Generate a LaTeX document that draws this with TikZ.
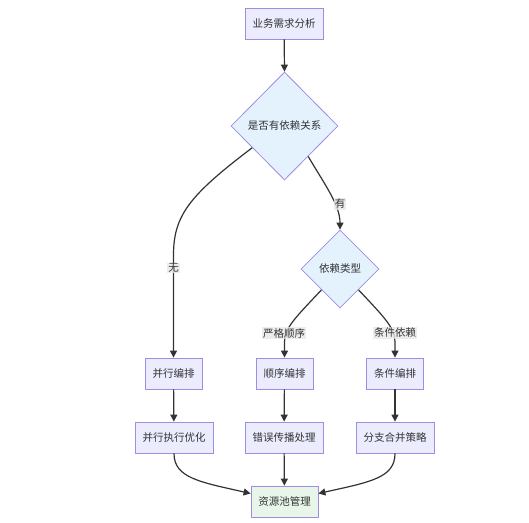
\documentclass[tikz,border=0pt]{standalone}
\usepackage{fontspec}
\setmainfont{Noto Sans CJK SC}
\usetikzlibrary{shapes.geometric,arrows.meta,calc}
\definecolor{boxfill}{HTML}{ECECFF}
\definecolor{boxline}{HTML}{A08CE0}
\definecolor{decfill}{HTML}{E3F2FD}
\definecolor{endfill}{HTML}{E8F5E9}
\definecolor{edgec}{HTML}{333333}
\definecolor{lblfill}{HTML}{E8E8E8}
\tikzset{
  stepbox/.style={draw=boxline, fill=boxfill, line width=0.8pt, rectangle, inner sep=0pt, minimum height=31pt, font=\fontsize{10.5}{12}\selectfont, text=edgec},
  decbox/.style={draw=boxline, fill=decfill, line width=0.8pt, diamond, inner sep=0pt, font=\fontsize{10.5}{12}\selectfont, text=edgec},
  conn/.style={draw=edgec, line width=1.2pt, -{Triangle[length=7pt,width=7pt]}},
  lbl/.style={fill=lblfill, fill opacity=0.8, text opacity=1, inner sep=1pt, font=\fontsize{10.5}{12}\selectfont, text=edgec}
}
\begin{document}
\begin{tikzpicture}[x=1pt,y=-1pt]
\useasboundingbox (0,0) rectangle (529,522);
\fill[white] (0,0) rectangle (529,522);
\node[stepbox, minimum width=78pt] (req) at (284,23.5) {业务需求分析};
\node[decbox, minimum width=107pt, minimum height=108pt] (d1) at (284.5,126) {是否有依赖关系};
\node[decbox, minimum width=78pt, minimum height=78pt] (d2) at (340,269) {依赖类型};
\node[stepbox, minimum width=57pt] (p1) at (173.5,373.5) {并行编排};
\node[stepbox, minimum width=57pt] (s1) at (284.5,373.5) {顺序编排};
\node[stepbox, minimum width=57pt] (c1) at (395,373.5) {条件编排};
\node[stepbox, minimum width=78pt] (p2) at (174,437.5) {并行执行优化};
\node[stepbox, minimum width=78pt] (s2) at (284,437.5) {错误传播处理};
\node[stepbox, minimum width=78pt] (c2) at (395,437.5) {分支合并策略};
\node[stepbox, fill=endfill, minimum width=67pt] (res) at (284.5,501.5) {资源池管理};

\coordinate (d1l) at ($(d1.south)!0.6!(d1.west)$);
\coordinate (d1r) at ($(d1.south)!0.44!(d1.east)$);
\coordinate (d2l) at ($(d2.south)!0.47!(d2.west)$);
\coordinate (d2r) at ($(d2.south)!0.47!(d2.east)$);

\draw[conn] (req) -- (d1.north);
\draw[conn] (d1l) .. controls (190,195) and (173.5,215) .. (173.5,255) -- (p1.north);
\draw[conn] (d1r) .. controls (325,185) and (340,205) .. (d2.north);
\draw[conn] (d2l) .. controls (295,318) and (284.5,328) .. (284.5,342) -- (s1.north);
\draw[conn] (d2r) .. controls (385,318) and (395,328) .. (395,342) -- (c1.north);
\draw[conn] (p1) -- (p2);
\draw[conn] (s1) -- (s2);
\draw[conn] (c1) -- (c2);
\draw[conn] (p2.south) .. controls (174,478) and (200,482) .. ($(res.west)+(0,-8)$);
\draw[conn] (s2) -- (res);
\draw[conn] (c2.south) .. controls (395,478) and (370,482) .. ($(res.east)+(0,-8)$);

\node[lbl] (lno) at (173.5,268) {无};
\node[lbl] (lyes) at (340,204) {有};
\node[lbl] (lstrict) at (284,333) {严格顺序};
\node[lbl] (lcond) at (395,333) {条件依赖};
\end{tikzpicture}
\end{document}
